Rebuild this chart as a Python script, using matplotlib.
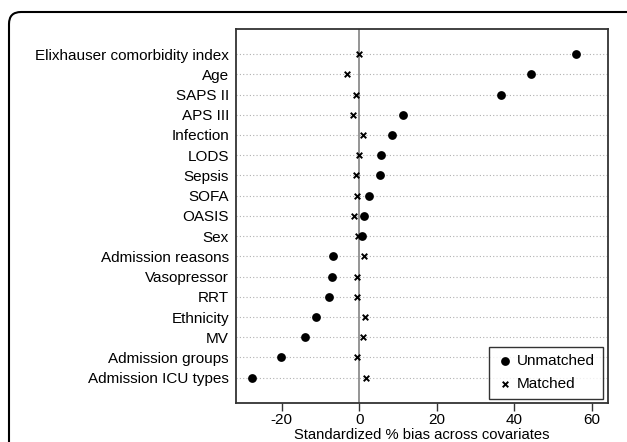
import matplotlib
matplotlib.use("Agg")
import matplotlib.pyplot as plt
from matplotlib.patches import FancyBboxPatch

covariates = ["Elixhauser comorbidity index", "Age", "SAPS II", "APS III", "Infection",
              "LODS", "Sepsis", "SOFA", "OASIS", "Sex", "Admission reasons",
              "Vasopressor", "RRT", "Ethnicity", "MV", "Admission groups",
              "Admission ICU types"]
unmatched = [56.0, 44.2, 36.6, 11.3, 8.5, 5.6, 5.3, 2.4, 1.1, 0.8, -6.9,
             -7.1, -7.8, -11.2, -13.9, -20.3, -27.8]
matched = [-0.2, -3.2, -0.9, -1.7, 0.9, -0.2, -0.9, -0.7, -1.3, -0.3, 1.3,
           -0.5, -0.7, 1.4, 0.9, -0.5, 1.8]
xticks = [-20, 0, 20, 40, 60]

plt.rcParams['font.family'] = ['Liberation Sans', 'DejaVu Sans']
FS = 11.0

fig = plt.figure(figsize=(6.27, 4.42), dpi=100)
ax = fig.add_axes([236/627, 1-403/442, (607.5-236)/627, (403-29)/442])

ypos = list(range(len(covariates)))
for y in ypos:
    ax.axhline(y, color='#b0b0b0', lw=0.8, ls=(0, (1, 2)), zorder=1)
ax.axvline(0, color='#8c8c8c', lw=1.3, zorder=2)

ax.scatter(unmatched, ypos, s=40, marker='o', color='black', zorder=4, label='Unmatched', linewidths=0)
ax.scatter(matched, ypos, s=16, marker='x', color='black', zorder=5, label='Matched', linewidths=1.4)

ax.set_xlim(-31.8, 64.0)
ax.set_ylim(len(covariates) - 1 + 1.25, -1.24)
ax.set_yticks(ypos)
ax.set_yticklabels(covariates, fontsize=FS)
ax.tick_params(axis='y', length=0, pad=5)
ax.set_xticks(xticks)
ax.set_xticklabels([str(t) for t in xticks], fontsize=FS)
ax.tick_params(axis='x', length=6, width=1.0, color='#333333', pad=1)
for s in ax.spines.values():
    s.set_color('#333333')
    s.set_linewidth(1.3)

fig.text((236 + 607.5) / 2 / 627, 0.3 / 442, "Standardized % bias across covariates",
         fontsize=10.6, ha='center', va='bottom')

leg = ax.legend(loc='lower right', fontsize=FS, frameon=True, fancybox=False,
                edgecolor='black', handletextpad=0.3, borderpad=0.5, borderaxespad=0,
                bbox_to_anchor=(602.5/627, 1-398.5/442), bbox_transform=fig.transFigure,
                markerscale=1.0, handlelength=1.0, labelspacing=0.55)
leg.get_frame().set_linewidth(1.0)

frame = FancyBboxPatch((9, -40), 700, 430 + 40, boxstyle="round,pad=0,rounding_size=12",
                       transform=None, facecolor='none', edgecolor='black', lw=1.5)
fig.add_artist(frame)

fig.savefig("out.png", dpi=100)
